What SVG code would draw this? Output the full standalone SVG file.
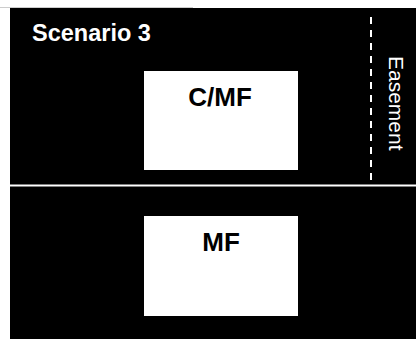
<svg xmlns="http://www.w3.org/2000/svg" width="416" height="339" viewBox="0 0 416 339">
  <style>
    .lot { fill: #ffffff; }
    .label { font-family: "Liberation Sans", Arial, sans-serif; font-weight: bold; fill: #000000; text-anchor: middle; }
    .title { font-family: "Liberation Sans", Arial, sans-serif; font-weight: bold; fill: #ffffff; }
    .ease { font-family: "Liberation Sans", Arial, sans-serif; fill: #ffffff; }
  </style>
  <!-- page background -->
  <rect x="0" y="0" width="416" height="339" fill="#ffffff"/>
  <line x1="0" y1="7.5" x2="193" y2="7.5" stroke="#cccccc" stroke-width="1"/>
  <!-- site -->
  <rect x="10" y="8" width="406" height="331" fill="#000000"/>
  <text class="title" x="32" y="41" font-size="23.5">Scenario 3</text>

  <g id="connectors">
    <!-- lot divider -->
    <line x1="10" y1="185.5" x2="416" y2="185.5" stroke="#ffffff" stroke-width="2"/>
    <!-- easement boundary -->
    <line x1="371" y1="17" x2="371" y2="181" stroke="#ffffff" stroke-width="2" stroke-dasharray="7,6"/>
  </g>

  <g id="easement">
    <text class="ease" x="0" y="0" font-size="21" transform="translate(389,56) rotate(90)">Easement</text>
  </g>

  <g id="cmf">
    <rect class="lot" x="144" y="71" width="154" height="99"/>
    <text class="label" x="220" y="106" font-size="26">C/MF</text>
  </g>

  <g id="mf">
    <rect class="lot" x="144" y="216" width="154" height="100"/>
    <text class="label" x="221" y="251" font-size="26">MF</text>
  </g>
</svg>
